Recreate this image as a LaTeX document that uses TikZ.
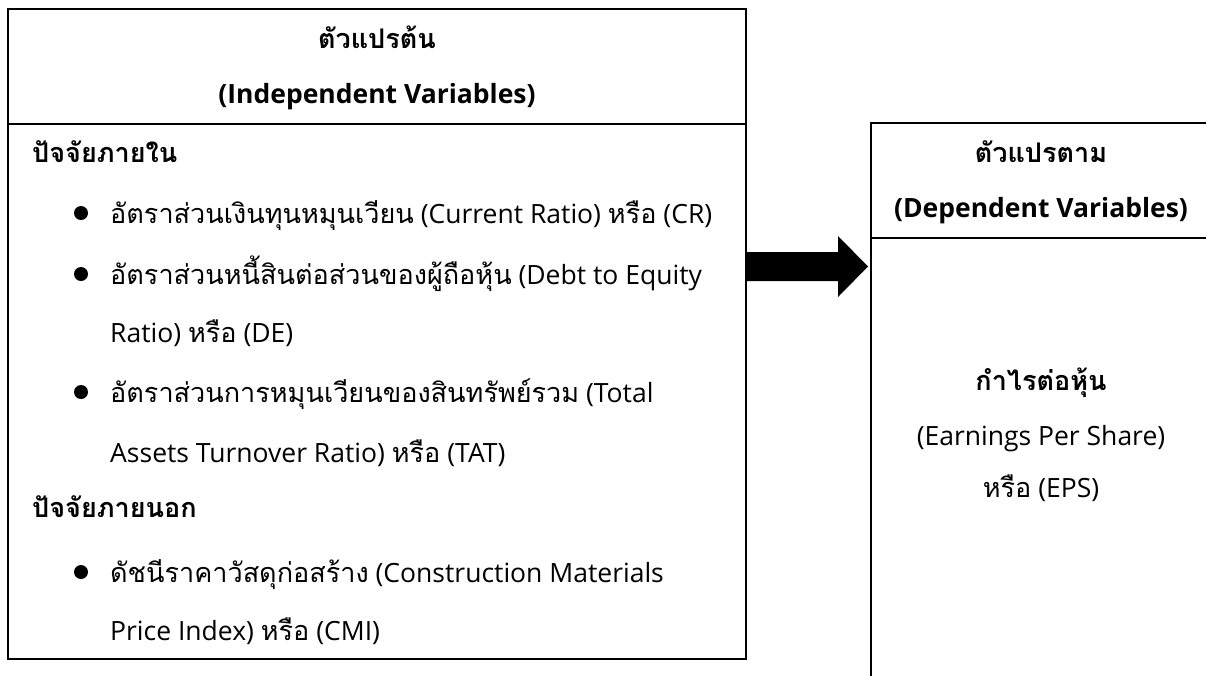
\documentclass[tikz,border=0pt]{standalone}
\usepackage{fontspec}
\setmainfont{Open Sans}
\newfontfamily\thf[Script=Thai,Scale=1.02]{Loma}
\usetikzlibrary{calc}
\begin{document}
\begin{tikzpicture}[x=1pt,y=-1pt,
  box/.style={draw, line width=2pt, inner sep=0pt, outer sep=0pt, anchor=north west},
  txt/.style={inner sep=0pt, anchor=base west, font=\fontsize{26.5}{30}\selectfont},
  ctxt/.style={inner sep=0pt, anchor=base, font=\fontsize{26.5}{30}\selectfont},
  dot/.style={circle, fill=black, inner sep=0pt, minimum size=14pt}]
\useasboundingbox (0,0) rectangle (1206,675);
\clip (0,0) rectangle (1206,675);
% boxes
\node[box, minimum width=738pt, minimum height=650pt] (L) at (8,9) {};
\node[box, minimum width=345pt, minimum height=580pt] (R) at (871,123) {};
\coordinate (Ld) at (8,124);
\coordinate (Rd) at (871,238);
\draw[line width=2pt] (Ld) -- (L.east |- Ld);
\draw[line width=2pt] (Rd) -- (R.east |- Rd);
% block arrow
\coordinate (a1) at (748,252);
\coordinate (tip) at (868,266.5);
\fill (L.east |- a1) -- (838,252) -- (838,236) -- (tip) -- (838,297) -- (838,281) -- (L.east |- 0,281) -- cycle;
% left header
\node[ctxt] (h1) at (377,48) {\bfseries\thf ตัวแปรต้น};
\node[ctxt] (h2) at (377,103) {\bfseries (Independent Variables)};
% left body
\node[txt] (g1) at (32,162) {\bfseries\thf ปัจจัยภายใน};
\node[dot] (b1) at (81,213) {};
\node[txt] (l1) at (110,223) {{\thf อัตราส่วนเงินทุนหมุนเวียน} (Current Ratio) {\thf หรือ} (CR)};
\node[dot] (b2) at (81,274) {};
\node[txt] (l2) at (110,284) {{\thf อัตราส่วนหนี้สินต่อส่วนของผู้ถือหุ้น} (Debt to Equity};
\node[txt] (l3) at (110,342) {Ratio) {\thf หรือ} (DE)};
\node[dot] (b3) at (81,392) {};
\node[txt] (l4) at (110,402) {{\thf อัตราส่วนการหมุนเวียนของสินทรัพย์รวม} (Total};
\node[txt] (l5) at (110,462) {Assets Turnover Ratio) {\thf หรือ} (TAT)};
\node[txt] (g2) at (32,517) {\bfseries\thf ปัจจัยภายนอก};
\node[dot] (b4) at (81,572) {};
\node[txt] (l6) at (110,582) {{\thf ดัชนีราคาวัสดุก่อสร้าง} (Construction Materials};
\node[txt] (l7) at (110,640) {Price Index) {\thf หรือ} (CMI)};
% right header
\node[ctxt] (r1) at (1041,162) {\bfseries\thf ตัวแปรตาม};
\node[ctxt] (r2) at (1041,217) {\bfseries (Dependent Variables)};
% right body
\node[ctxt] (r3) at (1041,390) {\bfseries\thf กำไรต่อหุ้น};
\node[ctxt] (r4) at (1041,445) {(Earnings Per Share)};
\node[ctxt] (r5) at (1041,497) {{\thf หรือ} (EPS)};
\end{tikzpicture}
\end{document}
